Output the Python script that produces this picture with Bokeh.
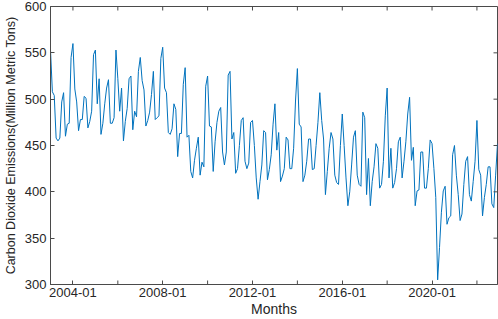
import numpy as np
import pandas as pd
from bokeh.plotting import figure
from bokeh.models import Range1d, FixedTicker, ColumnDataSource
from bokeh.embed import file_html
from bokeh.resources import INLINE

# Monthly CO2 emissions (million metric tons), Jan 2003 .. Dec 2022
start_month = "2003-01"
emissions = [
    553, 508, 504, 458, 455, 458, 497, 507, 460, 473, 474, 545,  # 2003
    560, 511, 497, 466, 478, 478, 503, 501, 469, 476, 487, 548,  # 2004
    553, 495, 522, 462, 474, 495, 512, 521, 474, 474, 480, 553,  # 2005
    522, 487, 512, 455, 476, 490, 522, 525, 467, 487, 481, 530,  # 2006
    545, 520, 510, 471, 477, 486, 505, 530, 478, 480, 482, 544,  # 2007
    556, 512, 507, 464, 462, 468, 495, 489, 438, 463, 463, 516,  # 2008
    534, 459, 461, 422, 415, 434, 447, 459, 418, 432, 427, 514,  # 2009
    525, 471, 470, 422, 454, 475, 487, 491, 443, 429, 443, 526,  # 2010
    530, 457, 464, 420, 425, 450, 477, 480, 433, 425, 431, 475,  # 2011
    477, 450, 415, 392, 411, 429, 466, 464, 413, 424, 440, 473,  # 2012
    495, 445, 464, 411, 417, 425, 459, 456, 425, 425, 447, 498,  # 2013
    533, 473, 470, 411, 418, 433, 457, 457, 424, 425, 450, 475,  # 2014
    507, 477, 457, 397, 422, 447, 464, 457, 418, 410, 408, 450,  # 2015
    484, 450, 415, 385, 400, 429, 459, 466, 418, 408, 406, 486,  # 2016
    480, 397, 436, 385, 411, 427, 452, 447, 404, 408, 433, 482,  # 2017
    512, 415, 447, 404, 410, 425, 454, 459, 415, 433, 454, 484,  # 2018
    502, 434, 448, 385, 401, 402, 443, 443, 404, 404, 425, 456,  # 2019
    452, 425, 394, 305, 340, 378, 401, 406, 365, 372, 374, 440,  # 2020
    450, 418, 397, 369, 376, 408, 433, 438, 397, 390, 411, 433,  # 2021
    477, 424, 418, 374, 394, 408, 427, 427, 387, 383, 418, 452,  # 2022
]
labeled_tick_months = ["2004-01", "2008-01", "2012-01", "2016-01", "2020-01"]
unlabeled_tick_months = ["2006-01", "2010-01", "2014-01", "2018-01", "2022-01"]
y_ticks = [300, 350, 400, 450, 500, 550, 600]
x_label = "Months"
y_label = "Carbon Dioxide Emissions(Million Metric Tons)"

start = pd.Period(start_month, freq="M")
months = pd.period_range(start_month, periods=len(emissions), freq="M")
x = np.array([(m - start).n for m in months])
lab_ticks = [(pd.Period(t, freq="M") - start).n for t in labeled_tick_months]
unl_ticks = [(pd.Period(t, freq="M") - start).n for t in unlabeled_tick_months]
all_x_ticks = sorted(lab_ticks + unl_ticks)

src = ColumnDataSource(dict(x=x, y=emissions, month=months.astype(str)))

axis_color = "#4a4a4a"
text_color = "#262626"
font = "Liberation Sans"
ymin, ymax = y_ticks[0], y_ticks[-1]

p = figure(width=498, height=319, output_backend="svg", toolbar_location=None,
           x_range=Range1d(x[0], x[-1]), y_range=Range1d(ymin, ymax),
           min_border_left=48, min_border_right=1, min_border_top=6,
           min_border_bottom=32)
p.background_fill_color = "white"
p.border_fill_color = "white"
p.outline_line_color = axis_color
p.outline_line_width = 1
p.xgrid.visible = False
p.ygrid.visible = False

p.line("x", "y", source=src, line_color="#0072BD", line_width=1)

# inward tick marks on the box edges (MATLAB style box)
tick_len = 4
p.ray(x=unl_ticks, y=[ymin] * len(unl_ticks), length=tick_len, length_units="screen",
      angle=np.pi / 2, line_color=axis_color, line_width=1)
p.ray(x=all_x_ticks, y=[ymax] * len(all_x_ticks), length=tick_len, length_units="screen",
      angle=-np.pi / 2, line_color=axis_color, line_width=1)
p.ray(x=[x[-1]] * len(y_ticks), y=y_ticks, length=tick_len, length_units="screen",
      angle=np.pi, line_color=axis_color, line_width=1)

def style(ax):
    ax.axis_line_color = axis_color
    ax.major_tick_line_color = axis_color
    ax.minor_tick_line_color = None
    ax.major_tick_in = tick_len
    ax.major_tick_out = 0
    ax.major_label_text_font = font
    ax.major_label_text_color = text_color
    ax.axis_label_text_font = font
    ax.axis_label_text_color = text_color
    ax.axis_label_text_font_style = "normal"

xa = p.xaxis[0]
style(xa)
xa.ticker = FixedTicker(ticks=lab_ticks)
xa.major_label_overrides = {t: l for t, l in zip(lab_ticks, labeled_tick_months)}
xa.major_label_text_font_size = "13px"
xa.major_label_standoff = 3
xa.axis_label = x_label
xa.axis_label_text_font_size = "14px"
xa.axis_label_standoff = 1

ya = p.yaxis[0]
style(ya)
ya.ticker = FixedTicker(ticks=y_ticks)
ya.major_label_text_font_size = "13px"
ya.major_label_standoff = 4
ya.axis_label = y_label
ya.axis_label_text_font_size = "12.5px"
ya.axis_label_standoff = 4

open("out.html", "w").write(file_html(p, INLINE))
